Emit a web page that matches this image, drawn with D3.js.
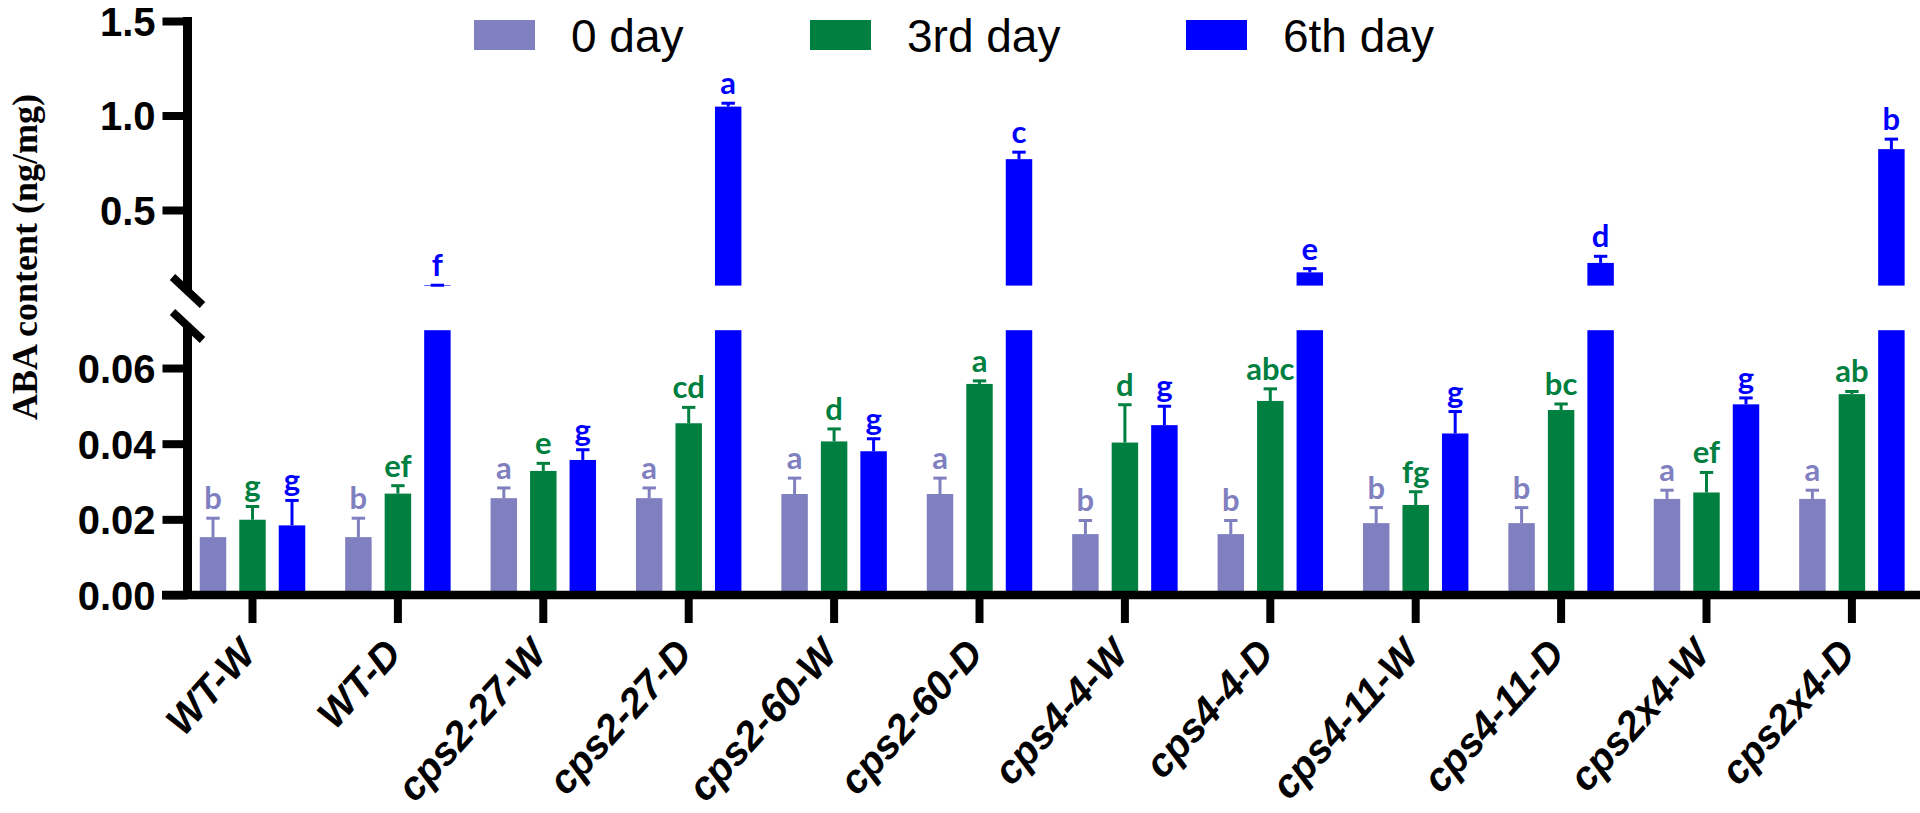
<!DOCTYPE html>
<html>
<head>
<meta charset="utf-8">
<script src="https://cdn.jsdelivr.net/npm/d3@7/dist/d3.min.js"></script>
<style>
  html, body { margin: 0; padding: 0; background: #fff; }
  svg { display: block; }
</style>
</head>
<body>
<svg id="chart" width="1920" height="813"></svg>
<script>
// ---------------- DATA ----------------
const categories = ["WT-W", "WT-D", "cps2-27-W", "cps2-27-D", "cps2-60-W", "cps2-60-D",
                    "cps4-4-W", "cps4-4-D", "cps4-11-W", "cps4-11-D", "cps2x4-W", "cps2x4-D"];
const seriesNames = ["0 day", "3rd day", "6th day"];
const seriesColors = ["#8080c0", "#008040", "#0000ff"];

const day0    = [0.0153, 0.0153, 0.0256, 0.0256, 0.0267, 0.0267, 0.0161, 0.0161, 0.0190, 0.0190, 0.0254, 0.0254];
const day0Err = [0.0050, 0.0050, 0.0027, 0.0027, 0.0042, 0.0042, 0.0036, 0.0036, 0.0041, 0.0041, 0.0023, 0.0023];
const day3    = [0.0199, 0.0268, 0.0328, 0.0454, 0.0406, 0.0558, 0.0403, 0.0513, 0.0238, 0.0489, 0.0271, 0.0531];
const day3Err = [0.0035, 0.0021, 0.0020, 0.0042, 0.0033, 0.0008, 0.0100, 0.0032, 0.0035, 0.0016, 0.0053, 0.0007];
const day6    = [0.0184, 0.1010, 0.0357, 1.0470, 0.0380, 0.7690, 0.0449, 0.1700, 0.0427, 0.2200, 0.0504, 0.8220];
const day6Err = [0.0066, 0.0010, 0.0027, 0.0180, 0.0033, 0.0370, 0.0050, 0.0200, 0.0058, 0.0350, 0.0017, 0.0530];

const day0Letters = ["b", "b", "a", "a", "a", "a", "b", "b", "b", "b", "a", "a"];
const day3Letters = ["g", "ef", "e", "cd", "d", "a", "d", "abc", "fg", "bc", "ef", "ab"];
const day6Letters = ["g", "f", "g", "a", "g", "c", "g", "e", "g", "d", "g", "b"];

const upperTicks = [0.5, 1.0, 1.5];
const lowerTicks = [0.00, 0.02, 0.04, 0.06];
const upperDomain = [0.1, 1.5];
const lowerDomain = [0, 0.07];
const yTitle = "ABA content (ng/mg)";

// ---------------- LAYOUT ----------------
const svg = d3.select("#chart");
const values = [day0, day3, day6];
const errs = [day0Err, day3Err, day6Err];
const letters = [day0Letters, day3Letters, day6Letters];

const axisX = 187.5;
const x0 = d3.scaleBand().domain(categories).range([179.8, 179.8 + 12 * 145.4]).padding(0);
const bw0 = x0.bandwidth();
const x1 = d3.scaleBand().domain(seriesNames)
  .range([bw0 / 2 - 59.25, bw0 / 2 + 59.25]).paddingInner(0.33).paddingOuter(0.165);

const yUp = d3.scaleLinear().domain(upperDomain).range([285.6, 21]);
const yLo = d3.scaleLinear().domain(lowerDomain).range([595, 330.2]);

const data = [];
categories.forEach((c, i) => {
  seriesNames.forEach((s, j) => {
    data.push({ cat: c, ser: s, j, v: values[j][i], e: errs[j][i], lab: letters[j][i] });
  });
});

const labelFont = "Lato, 'Open Sans', sans-serif";

const g = svg.append("g");

// Bars
data.forEach(d => {
  const x = x0(d.cat) + x1(d.ser);
  const w = x1.bandwidth();
  const col = seriesColors[d.j];
  const cx = x + w / 2;
  const vLo = Math.min(d.v, lowerDomain[1]);
  g.append("rect").attr("x", x).attr("y", yLo(vLo)).attr("width", w)
    .attr("height", yLo(0) - yLo(vLo)).attr("fill", col);
  let yTop, yE;
  if (d.v > lowerDomain[1]) {
    yTop = yUp(d.v);
    g.append("rect").attr("x", x).attr("y", yTop).attr("width", w)
      .attr("height", Math.max(yUp(upperDomain[0]) - yTop, 0.6)).attr("fill", col);
    yE = yUp(d.v + d.e);
  } else {
    yTop = yLo(d.v);
    yE = yLo(d.v + d.e);
  }
  g.append("line").attr("x1", cx).attr("x2", cx).attr("y1", yTop).attr("y2", yE)
    .attr("stroke", col).attr("stroke-width", 3);
  g.append("line").attr("x1", cx - 6.7).attr("x2", cx + 6.7).attr("y1", yE).attr("y2", yE)
    .attr("stroke", col).attr("stroke-width", 3);
  g.append("text").attr("x", cx).attr("y", yE - 9)
    .attr("text-anchor", "middle")
    .attr("font-family", labelFont).attr("font-weight", 700).attr("font-size", 31)
    .attr("fill", col).text(d.lab);
});

// Axes
const tickFont = "'Liberation Sans', Arial, sans-serif";

const yAxisUp = d3.axisLeft(yUp).tickValues(upperTicks).tickFormat(d3.format(".1f"))
  .tickSize(25).tickPadding(7);
const yAxisLo = d3.axisLeft(yLo).tickValues(lowerTicks).tickFormat(d3.format(".2f"))
  .tickSize(25).tickPadding(7);

[yAxisUp, yAxisLo].forEach(ax => {
  const a = svg.append("g").attr("transform", `translate(${axisX},0)`).call(ax);
  a.select(".domain").remove();
  a.selectAll(".tick line").attr("stroke", "#000").attr("stroke-width", 8);
  a.selectAll(".tick text").attr("font-family", tickFont).attr("font-weight", 700)
    .attr("font-size", 40).attr("fill", "#000").attr("dy", "0.36em");
});

// Y axis lines (broken)
svg.append("line").attr("x1", axisX).attr("x2", axisX).attr("y1", 17).attr("y2", 291)
  .attr("stroke", "#000").attr("stroke-width", 9);
svg.append("line").attr("x1", axisX).attr("x2", axisX).attr("y1", 326).attr("y2", 599)
  .attr("stroke", "#000").attr("stroke-width", 9);
[291, 326].forEach(cy => {
  svg.append("line").attr("x1", axisX - 15).attr("y1", cy - 14).attr("x2", axisX + 15).attr("y2", cy + 14)
    .attr("stroke", "#000").attr("stroke-width", 8);
});

// X axis
svg.append("line").attr("x1", 162).attr("x2", 1920).attr("y1", 595).attr("y2", 595)
  .attr("stroke", "#000").attr("stroke-width", 8.5);
const xAxis = d3.axisBottom(x0).tickSize(28).tickPadding(0);
const xa = svg.append("g").attr("transform", "translate(0,595)").call(xAxis);
xa.select(".domain").remove();
xa.selectAll(".tick line").attr("stroke", "#000").attr("stroke-width", 8);
xa.selectAll(".tick text").remove();
xa.selectAll(".tick").append("text")
  .attr("transform", "translate(5.5,60) rotate(-48)")
  .attr("text-anchor", "end")
  .attr("font-family", tickFont).attr("font-weight", 700).attr("font-style", "italic")
  .attr("font-size", 40).attr("fill", "#000")
  .text(d => d);

// Y title
svg.append("text")
  .attr("transform", "translate(37,257) rotate(-90)")
  .attr("text-anchor", "middle")
  .attr("font-family", "'Liberation Serif', 'Times New Roman', serif")
  .attr("font-weight", 700).attr("font-size", 36).attr("fill", "#000")
  .text(yTitle);

// Legend
const legendX = [474, 810, 1186];
seriesNames.forEach((s, j) => {
  const lg = svg.append("g").attr("transform", `translate(${legendX[j]},20)`);
  lg.append("rect").attr("width", 61).attr("height", 30).attr("fill", seriesColors[j]);
  lg.append("text").attr("x", 97).attr("y", 32)
    .attr("font-family", tickFont).attr("font-size", 46).attr("fill", "#000").text(s);
});
</script>
</body>
</html>
